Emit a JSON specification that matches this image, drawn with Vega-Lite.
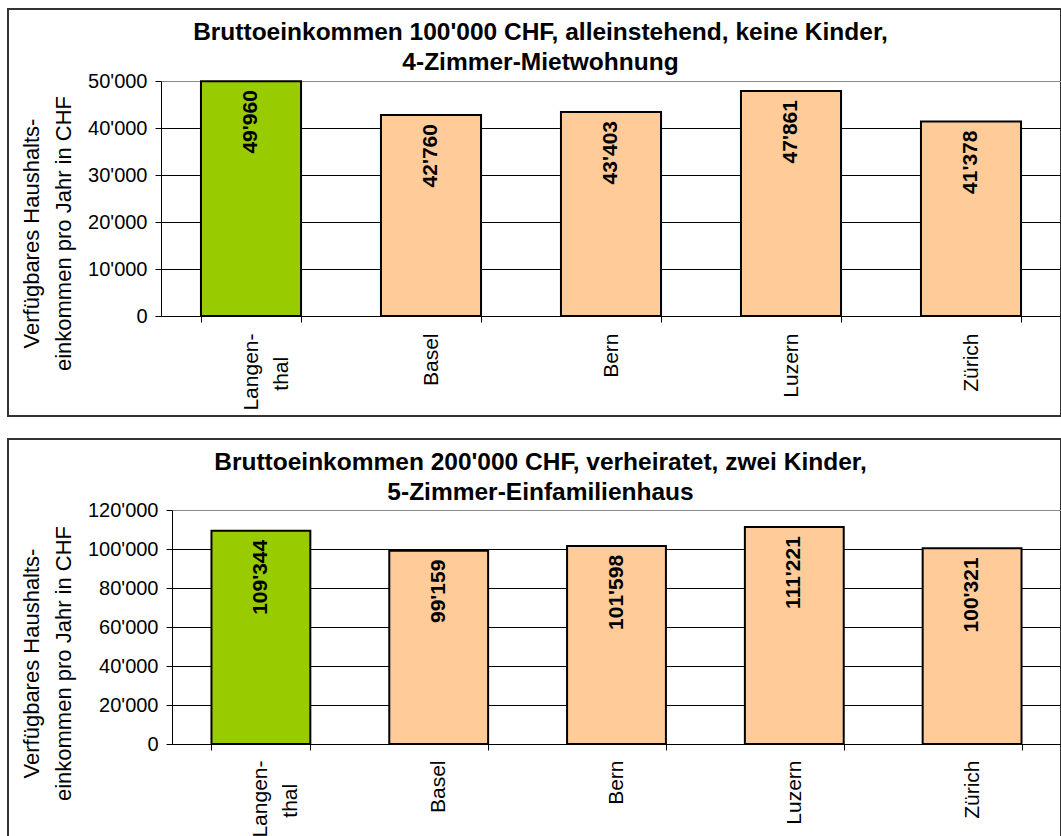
{
  "$schema": "https://vega.github.io/schema/vega-lite/v6.json",
  "padding": {"left": -4, "top": 8, "right": 0, "bottom": 0},
  "spacing": 21,
  "background": "white",
  "config": {
    "font": "Liberation Sans",
    "locale": {"number": {"decimal": ".", "thousands": "'", "grouping": [3], "currency": ["", ""]}},
    "view": {"stroke": "#333333", "strokeWidth": 2},
    "axis": {"labelFont": "Liberation Sans", "titleFont": "Liberation Sans", "labelColor": "black", "titleColor": "black", "domainColor": "black", "tickColor": "black", "domainWidth": 1, "tickWidth": 1},
    "title": {"font": "Liberation Sans", "color": "black"}
  },
  "datasets": {
    "single": [
      {"city": "Langenthal", "value": 49960},
      {"city": "Basel", "value": 42760},
      {"city": "Bern", "value": 43403},
      {"city": "Luzern", "value": 47861},
      {"city": "Zürich", "value": 41378}
    ],
    "family": [
      {"city": "Langenthal", "value": 109344},
      {"city": "Basel", "value": 99159},
      {"city": "Bern", "value": 101598},
      {"city": "Luzern", "value": 111221},
      {"city": "Zürich", "value": 100321}
    ]
  },
  "vconcat": [
    {
      "width": 1053,
      "height": 407,
      "data": {"name": "single"},
      "title": {"text": ["Bruttoeinkommen 100'000 CHF, alleinstehend, keine Kinder,", "4-Zimmer-Mietwohnung"], "anchor": "middle", "frame": "group", "fontSize": 24.5, "fontWeight": "bold", "lineHeight": 30, "offset": -66, "dx": 6},
      "encoding": {
        "x": {
          "field": "city", "type": "nominal", "sort": null,
          "scale": {"range": [153, 1053], "paddingInner": 0.444, "paddingOuter": 0.222},
          "axis": {
            "orient": "bottom", "offset": -100, "title": null, "tickBand": "extent", "tickSize": 6,
            "labelAngle": 270, "labelAlign": "right", "labelBaseline": "middle", "labelFontSize": 21, "labelPadding": 11, "labelLineHeight": 30,
            "labelExpr": "datum.label == 'Langenthal' ? ['Langen-', 'thal\u00a0\u00a0\u00a0\u00a0\u200b'] : datum.label"
          }
        },
        "y": {
          "field": "value", "type": "quantitative",
          "scale": {"domain": [0, 50000], "range": [307, 72], "nice": false, "zero": true},
          "axis": {
            "orient": "left", "offset": -153, "values": [0, 10000, 20000, 30000, 40000, 50000], "format": ",d",
            "tickSize": 6, "labelFontSize": 20, "labelPadding": 8, "grid": true,
            "gridColor": {"condition": {"test": "datum.value == 50000", "value": "#888888"}, "value": "black"},
            "gridWidth": 1,
            "title": ["Verfügbares Haushalts-", "einkommen pro Jahr in CHF"],
            "titleFontSize": 22, "titleFontWeight": "normal", "titleLineHeight": 32, "titleBaseline": "top", "titleX": -140, "titleY": 224
          }
        }
      },
      "layer": [
        {
          "mark": {"type": "bar", "stroke": "black", "strokeWidth": 2},
          "encoding": {"color": {"condition": {"test": "datum.city == 'Langenthal'", "value": "#99CC00"}, "value": "#FFCC99"}}
        },
        {
          "mark": {"type": "text", "angle": 270, "align": "right", "baseline": "middle", "dx": -9, "fontSize": 21, "fontWeight": "bold", "color": "black"},
          "encoding": {"text": {"field": "value", "type": "quantitative", "format": ",d"}}
        }
      ]
    },
    {
      "width": 1053,
      "height": 400,
      "data": {"name": "family"},
      "title": {"text": ["Bruttoeinkommen 200'000 CHF, verheiratet, zwei Kinder,", "5-Zimmer-Einfamilienhaus"], "anchor": "middle", "frame": "group", "fontSize": 24.5, "fontWeight": "bold", "lineHeight": 30, "offset": -66, "dx": 6},
      "encoding": {
        "x": {
          "field": "city", "type": "nominal", "sort": null,
          "scale": {"range": [164, 1053], "paddingInner": 0.444, "paddingOuter": 0.222},
          "axis": {
            "orient": "bottom", "offset": -95, "title": null, "tickBand": "extent", "tickSize": 6,
            "labelAngle": 270, "labelAlign": "right", "labelBaseline": "middle", "labelFontSize": 21, "labelPadding": 10, "labelLineHeight": 30,
            "labelExpr": "datum.label == 'Langenthal' ? ['Langen-', 'thal\u00a0\u00a0\u00a0\u00a0\u200b'] : datum.label"
          }
        },
        "y": {
          "field": "value", "type": "quantitative",
          "scale": {"domain": [0, 120000], "range": [305, 71], "nice": false, "zero": true},
          "axis": {
            "orient": "left", "offset": -164, "values": [0, 20000, 40000, 60000, 80000, 100000, 120000], "format": ",d",
            "tickSize": 6, "labelFontSize": 20, "labelPadding": 8, "grid": true,
            "gridColor": {"condition": {"test": "datum.value == 120000", "value": "#888888"}, "value": "black"},
            "gridWidth": 1,
            "title": ["Verfügbares Haushalts-", "einkommen pro Jahr in CHF"],
            "titleFontSize": 22, "titleFontWeight": "normal", "titleLineHeight": 32, "titleBaseline": "top", "titleX": -151, "titleY": 224
          }
        }
      },
      "layer": [
        {
          "mark": {"type": "bar", "stroke": "black", "strokeWidth": 2},
          "encoding": {"color": {"condition": {"test": "datum.city == 'Langenthal'", "value": "#99CC00"}, "value": "#FFCC99"}}
        },
        {
          "mark": {"type": "text", "angle": 270, "align": "right", "baseline": "middle", "dx": -9, "fontSize": 21, "fontWeight": "bold", "color": "black"},
          "encoding": {"text": {"field": "value", "type": "quantitative", "format": ",d"}}
        }
      ]
    }
  ]
}
